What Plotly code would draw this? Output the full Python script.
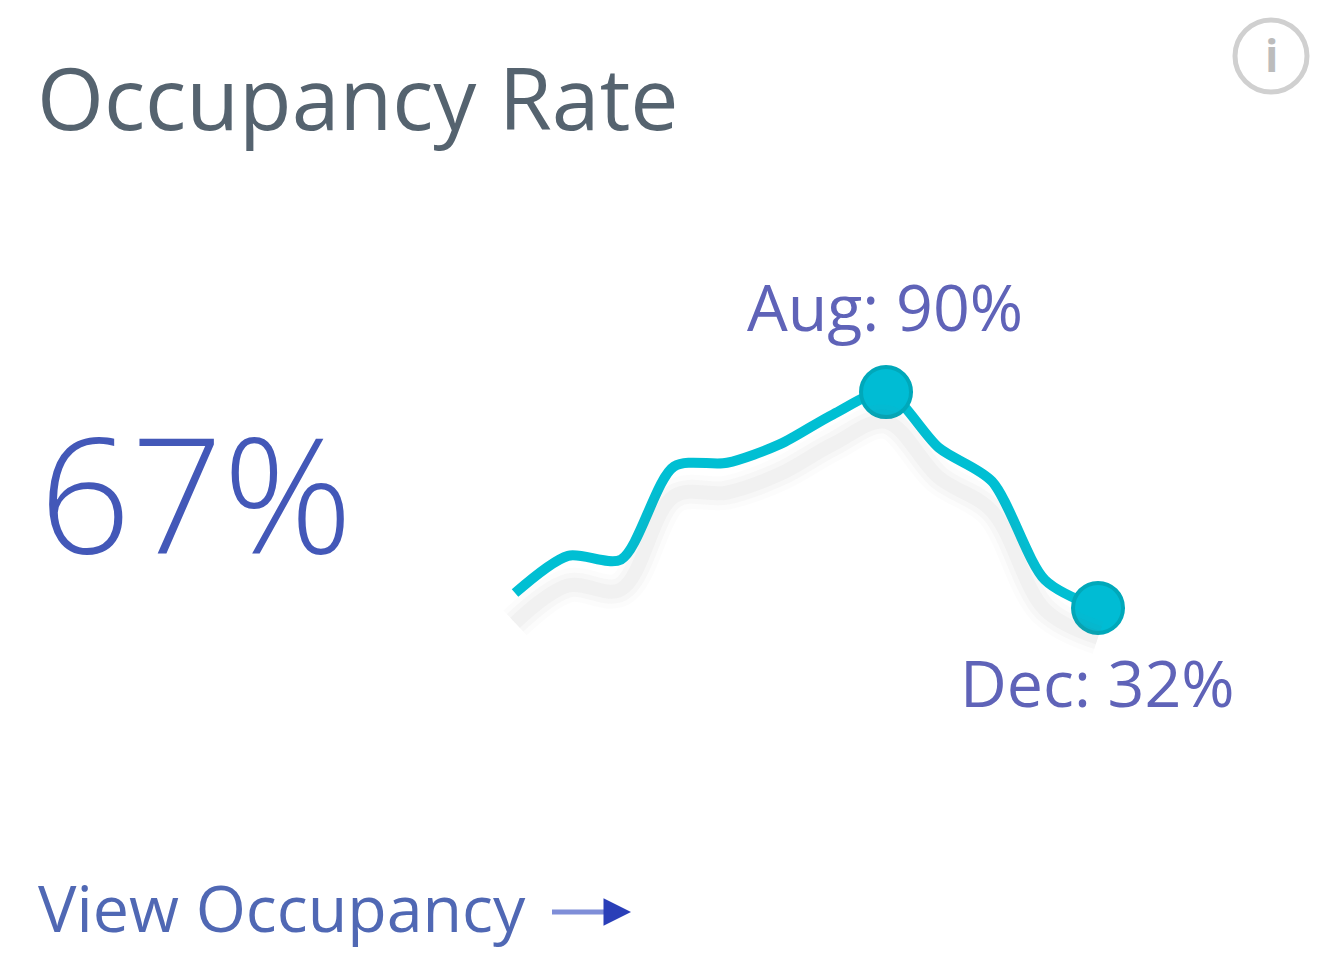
import plotly.graph_objects as go

# months along the sparkline, Jan to Dec
months = ['Jan', 'Feb', 'Mar', 'Apr', 'May', 'Jun', 'Jul', 'Aug', 'Sep', 'Oct', 'Nov', 'Dec']
occupancy = [36, 46, 45, 70, 71, 76, 84, 90, 75, 66, 39.5, 32]

peak_month = 'Aug'
peak_value = 90
last_month = 'Dec'
last_value = 32


# the page has an 8px body margin, so positions are given in picture pixels and moved back
def px(x):
    return (x - 8) / 1328


def py(y):
    return 1 - (y - 8) / 971


fig = go.Figure()
# soft shadow: same values on a lower shifted axis
for width, alpha in [(34, 0.025), (24, 0.035), (14, 0.04)]:
    fig.add_trace(go.Scatter(x=months, y=occupancy, yaxis='y2', mode='lines',
                             line=dict(color='rgba(110,110,110,%s)' % alpha, width=width, shape='spline'),
                             hoverinfo='skip'))
fig.add_trace(go.Scatter(x=months, y=occupancy, mode='lines',
                         line=dict(color='#00bfd3', width=10, shape='spline', smoothing=0.8),
                         hoverinfo='skip'))
fig.add_trace(go.Scatter(x=[peak_month, last_month], y=[peak_value, last_value], mode='markers',
                         marker=dict(color='#00bcd4', size=50, line=dict(color='#00a8ba', width=4)),
                         hoverinfo='skip'))

fig.update_layout(width=1328, height=971, showlegend=False, paper_bgcolor='white', plot_bgcolor='white',
                  margin=dict(l=0, r=0, t=0, b=0),
                  font=dict(family='Open Sans'),
                  yaxis=dict(visible=False, domain=[0.2595, 0.6428], range=[0, 100]),
                  yaxis2=dict(visible=False, overlaying='y', domain=[0.2595, 0.6428], range=[8, 108]))
fig.update_xaxes(visible=False, domain=[0.3419, 0.8607], range=[-1, 12],
                 categoryorder='array', categoryarray=months)


def label(text, x, y, size, color, anchor='left', weight=400):
    fig.add_annotation(text=text, xref='paper', yref='paper', x=px(x), y=py(y), showarrow=False,
                       xanchor=anchor, yanchor='middle',
                       font=dict(size=size, color=color, weight=weight))


label('Occupancy Rate', 35, 97, 86, '#55636f')
label('67%', 37, 491, 161, '#4358b8', weight=300)
label('Aug: 90%', 885, 306, 64.5, '#5f63b8', 'center')
label('Dec: 32%', 1097, 682, 64.5, '#5f63b8', 'center')
label('View Occupancy', 36, 907, 64.5, '#5068b4')

# arrow next to the link text: pale stem, dark head
fig.add_shape(type='line', xref='paper', yref='paper', x0=px(552), x1=px(618), y0=py(912), y1=py(912),
              line=dict(color='#7f8ed8', width=5))
fig.add_annotation(xref='paper', yref='paper', x=px(631), y=py(912), ax=-16, ay=0,
                   text='', showarrow=True,
                   arrowhead=2, arrowsize=1.1, arrowwidth=5, arrowcolor='#2a3fb8')

# info icon, top right
fig.add_shape(type='circle', xref='paper', yref='paper', x0=px(1235), x1=px(1307), y0=py(92), y1=py(20),
              line=dict(color='#d0d0d0', width=5))
label('i', 1271, 55, 44, '#bcbcbc', 'center', 700)

fig.write_html('out.html')
